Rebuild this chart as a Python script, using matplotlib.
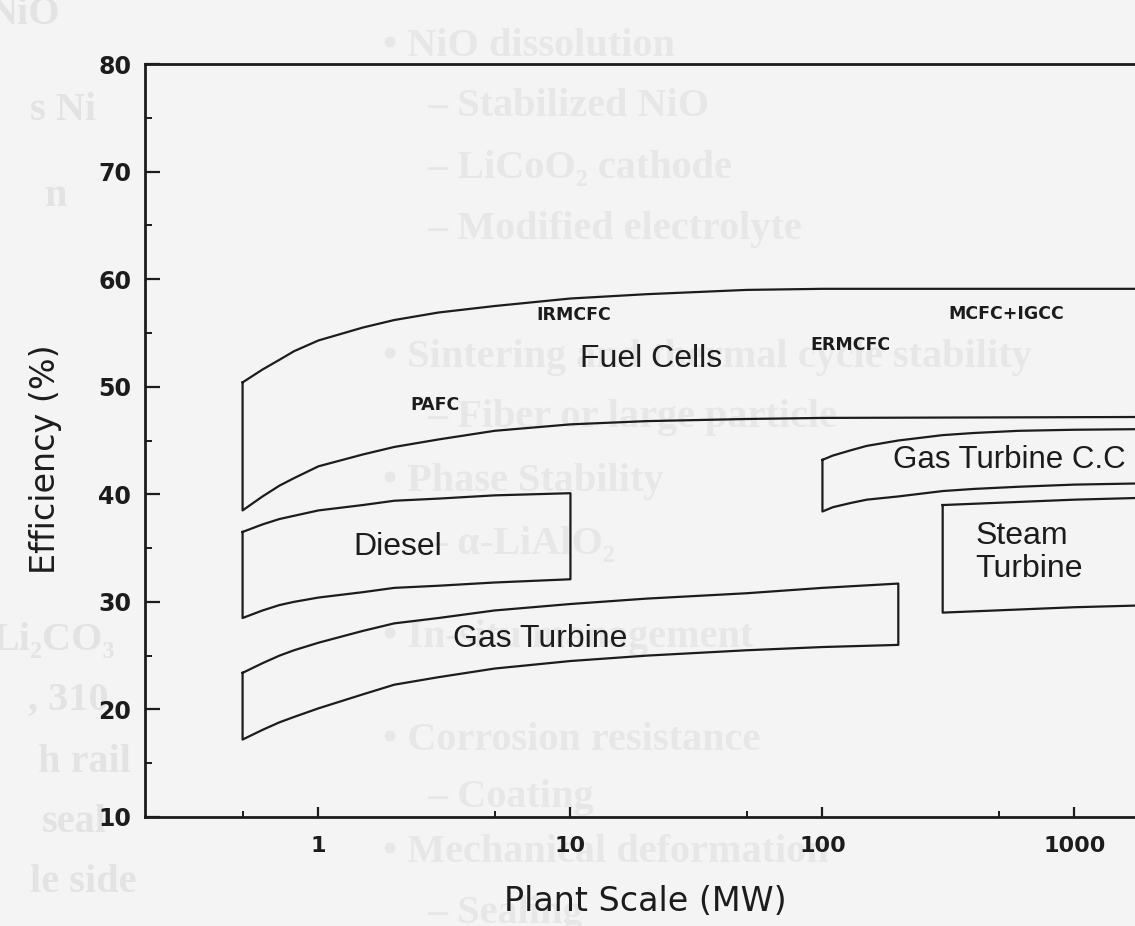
import math
import matplotlib.pyplot as plt
from matplotlib.ticker import FixedLocator, NullFormatter

# band outlines: plant scale (MW) against efficiency (%), upper and lower edge
fuel_x = [0.5, 0.6, 0.7, 0.8, 1, 1.5, 2, 3, 5, 10, 20, 50, 100, 3000]
fuel_top = [50.4, 51.6, 52.5, 53.3, 54.3, 55.5, 56.2, 56.9, 57.5, 58.2, 58.6, 59.0, 59.1, 59.1]
fuel_low = [38.5, 39.8, 40.8, 41.5, 42.6, 43.7, 44.4, 45.1, 45.9, 46.5, 46.8, 47.0, 47.1, 47.2]

diesel_x = [0.5, 0.6, 0.7, 0.8, 1, 1.5, 2, 3, 5, 10]
diesel_top = [36.5, 37.2, 37.7, 38.0, 38.5, 39.0, 39.4, 39.6, 39.9, 40.1]
diesel_low = [28.5, 29.2, 29.7, 30.0, 30.4, 30.9, 31.3, 31.5, 31.8, 32.1]

gt_x = [0.5, 0.6, 0.7, 0.8, 1, 1.5, 2, 3, 5, 10, 20, 50, 100, 200]
gt_top = [23.4, 24.3, 25.0, 25.5, 26.2, 27.3, 28.0, 28.5, 29.2, 29.8, 30.3, 30.8, 31.3, 31.7]
gt_low = [17.2, 18.1, 18.8, 19.3, 20.1, 21.4, 22.3, 23.0, 23.8, 24.5, 25.0, 25.5, 25.8, 26.0]

gtcc_x = [100, 110, 130, 150, 200, 300, 400, 600, 1000, 3000]
gtcc_top = [43.2, 43.6, 44.1, 44.5, 45.0, 45.5, 45.7, 45.9, 46.0, 46.1]
gtcc_low = [38.4, 38.8, 39.2, 39.5, 39.8, 40.3, 40.5, 40.7, 40.9, 41.1]

steam_x = [300, 1000, 3000]
steam_top = [39.0, 39.5, 39.8]
steam_low = [29.0, 29.5, 29.8]

x_ticks = [1, 10, 100, 1000]
x_minor = [0.5, 5, 50, 500]
y_ticks = [10, 20, 30, 40, 50, 60, 70, 80]
y_minor = [15, 25, 35, 45, 55, 65, 75]

# big region names and small technology names
big_names = ["Fuel Cells", "Diesel", "Gas Turbine"]
big_x = [20.8, 2.06, 7.6]
big_y = [51.8, 34.35, 25.8]
small_names = ["IRMCFC", "PAFC", "ERMCFC", "MCFC+IGCC"]
small_x = [10.3, 2.9, 129, 537]
small_y = [56.2, 47.8, 53.4, 56.3]

# faint text showing through from the other side of the scanned page
ghost_lines = ["• NiO dissolution", "– Stabilized NiO", "– LiCoO₂ cathode",
               "– Modified electrolyte", "• Sintering and thermal cycle stability",
               "– Fiber or large particle", "• Phase Stability", "– α-LiAlO₂",
               "• In-situ management", "• Corrosion resistance", "– Coating",
               "• Mechanical deformation", "– Sealing"]
ghost_left = ["NiO", "s Ni", "n", "Li₂CO₃", ", 310", "h rail", "seal", "le side"]

W, H = 1135, 926
fig = plt.figure(figsize=(W / 100, H / 100), dpi=100, facecolor="#f4f4f4")

ghost_font = ["Liberation Serif", "DejaVu Serif"]
ghost_rows = [47, 107, 168, 230, 358, 418, 482, 545, 637, 740, 797, 853, 913]
for s, py in zip(ghost_lines, ghost_rows):
    px = 383 if s.startswith("•") else 427
    fig.text(px / W, 1 - py / H, s, fontsize=29, color="#e7e7e7", fontweight="bold",
             family=ghost_font, va="center", zorder=-5)
left_rows = [15, 110, 196, 640, 700, 763, 823, 883]
left_cols = [-12, 30, 45, -8, 28, 38, 42, 30]
for s, px, py in zip(ghost_left, left_cols, left_rows):
    fig.text(px / W, 1 - py / H, s, fontsize=29, color="#e3e3e3", fontweight="bold",
             family=ghost_font, va="center", zorder=-5)

# axes run past the right edge, like the cropped scan
left_px, bottom_px, top_px = 145, 817, 64
x_lo, x_hi = 0.205, 3000
decade = 252
ax_w = decade * math.log10(x_hi / x_lo)
ax = fig.add_axes([left_px / W, 1 - bottom_px / H, ax_w / W, (bottom_px - top_px) / H])
ax.set_facecolor("none")
ax.set_xscale("log")
ax.set_xlim(x_lo, x_hi)
ax.set_ylim(10, 80)

ink = "#1c1c1c"
bands = [(fuel_x, fuel_top, fuel_low), (diesel_x, diesel_top, diesel_low),
         (gt_x, gt_top, gt_low), (gtcc_x, gtcc_top, gtcc_low),
         (steam_x, steam_top, steam_low)]
for xs, top, low in bands:
    px = xs + xs[::-1] + [xs[0]]
    py = top + low[::-1] + [top[0]]
    ax.plot(px, py, color=ink, lw=1.6)

label_font = ["Liberation Sans", "DejaVu Sans"]
for s, x, y in zip(big_names, big_x, big_y):
    ax.text(x, y, s, fontsize=23, ha="center", va="baseline", color=ink, family=label_font)
ax.text(191, 42.44, "Gas Turbine C.C", fontsize=22.5, ha="left", va="baseline",
        color=ink, family=label_font)
ax.text(405, 34.6, "Steam\nTurbine", fontsize=23, ha="left", va="center",
        color=ink, family=label_font, linespacing=1.15)
for s, x, y in zip(small_names, small_x, small_y):
    ax.text(x, y, s, fontsize=12.5, ha="center", va="baseline", color=ink,
            fontweight="bold", family="DejaVu Sans")

for side in ["left", "bottom", "top"]:
    ax.spines[side].set_linewidth(2.0)
    ax.spines[side].set_color(ink)
ax.spines["right"].set_visible(False)

ax.set_xticks(x_ticks)
ax.set_xticklabels([str(t) for t in x_ticks])
ax.xaxis.set_minor_locator(FixedLocator(x_minor))
ax.xaxis.set_minor_formatter(NullFormatter())
ax.set_yticks(y_ticks)
ax.yaxis.set_minor_locator(FixedLocator(y_minor))
ax.tick_params(axis="y", which="major", direction="in", length=11, width=1.6,
               pad=10, colors=ink, labelsize=17)
ax.tick_params(axis="y", which="minor", direction="in", length=5, width=1.4, colors=ink)
ax.tick_params(axis="x", which="major", direction="in", length=7, width=1.6,
               pad=14, colors=ink, labelsize=16)
ax.tick_params(axis="x", which="minor", direction="in", length=4, width=1.4, colors=ink)
for lab in ax.get_xticklabels() + ax.get_yticklabels():
    lab.set_fontweight("bold")
    lab.set_family("DejaVu Sans")

ax.set_xlabel("Plant Scale (MW)", fontsize=24, color=ink, family="DejaVu Sans")
ax.set_ylabel("Efficiency (%)", fontsize=24, color=ink, family="DejaVu Sans")
ax.xaxis.set_label_coords((645 - left_px) / ax_w, -(885 - bottom_px) / (bottom_px - top_px))
ax.yaxis.set_label_coords((62 - left_px) / ax_w, (bottom_px - 459) / (bottom_px - top_px))

fig.savefig("out.png", dpi=100, facecolor=fig.get_facecolor())
